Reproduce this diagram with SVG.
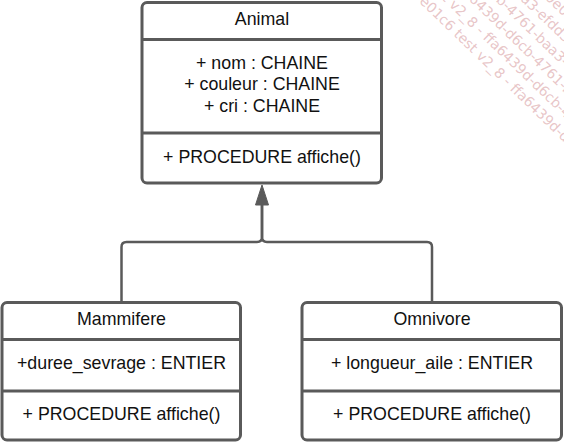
<svg xmlns="http://www.w3.org/2000/svg" width="564" height="443" viewBox="0 0 564 443">
<style>
.box{fill:#fff;stroke:#5a5a5a;stroke-width:3}
.div{stroke:#5a5a5a;stroke-width:3}
.t{font-family:"Liberation Sans",Arial,sans-serif;font-size:17.8px;fill:#111;text-anchor:middle}
.wm{font-family:"DejaVu Sans",sans-serif;font-size:14px;fill:#dba6a9;fill-opacity:0.65}
.wme{text-anchor:end}
.conn{fill:none;stroke:#5a5a5a;stroke-width:2.5}
</style>
<rect width="564" height="443" fill="#fff"/>
<g id="watermark" transform="translate(425,8) rotate(44)">
<text class="wm wme" x="0" y="0">baa3-efdd3b0e</text>
<text class="wm" x="0" y="0">01c6 test v2_8 - ffa6439d-d6cb-4761-baa3-efdd3b0e</text>
<text class="wm wme" x="-55" y="-18">baa3-efdd3b0e</text>
<text class="wm" x="-55" y="-18">01c6 test v2_8 - ffa6439d-d6cb-4761-baa3-efdd3b0e</text>
<text class="wm wme" x="-110" y="-36">baa3-efdd3b0e</text>
<text class="wm" x="-110" y="-36">01c6 test v2_8 - ffa6439d-d6cb-4761-baa3-efdd3b0e01c6 test</text>
<text class="wm wme" x="-165" y="-54">baa3-efdd3b0e</text>
<text class="wm" x="-165" y="-54">01c6 test v2_8 - ffa6439d-d6cb-4761-baa3-efdd3b0e01c6 test v2_8</text>
<text class="wm" x="-220" y="-72">01c6 test v2_8 - ffa6439d-d6cb-4761-baa3-efdd3b0e01c6 test v2_8</text>
<text class="wm" x="-275" y="-90">01c6 test v2_8 - ffa6439d-d6cb-4761-baa3-efdd3b0e01c6 test v2_8</text>
</g>
<g id="connectors">
<path class="conn" d="M121.5,302 V247 Q121.5,242 126.5,242 H257 Q262,242 262,237 V204"/>
<path class="conn" d="M432,302 V247 Q432,242 427,242 H267 Q262,242 262,237 V204"/>
<polygon points="262,185 255.5,205 268.5,205" fill="#5a5a5a" stroke="#5a5a5a" stroke-width="1" stroke-linejoin="round"/>
</g>
<g id="animal">
<rect class="box" x="142" y="2.5" width="239.5" height="180.5" rx="5"/>
<line class="div" x1="142" y1="39.5" x2="381.5" y2="39.5"/>
<line class="div" x1="142" y1="133" x2="381.5" y2="133"/>
<text class="t" x="262" y="25">Animal</text>
<text class="t" x="262" y="68.5">+ nom : CHAINE</text>
<text class="t" x="262" y="90">+ couleur : CHAINE</text>
<text class="t" x="262" y="111.5">+ cri : CHAINE</text>
<text class="t" x="262" y="162.5">+ PROCEDURE affiche()</text>
</g>
<g id="mammifere">
<rect class="box" x="2" y="302.5" width="238.5" height="137.5" rx="5"/>
<line class="div" x1="2" y1="339.5" x2="240.5" y2="339.5"/>
<line class="div" x1="2" y1="391" x2="240.5" y2="391"/>
<text class="t" x="121.5" y="325">Mammifere</text>
<text class="t" x="121.5" y="369">+duree_sevrage : ENTIER</text>
<text class="t" x="121.5" y="420">+ PROCEDURE affiche()</text>
</g>
<g id="omnivore">
<rect class="box" x="302" y="302.5" width="259.5" height="137.5" rx="5"/>
<line class="div" x1="302" y1="339.5" x2="561.5" y2="339.5"/>
<line class="div" x1="302" y1="391" x2="561.5" y2="391"/>
<text class="t" x="432" y="325">Omnivore</text>
<text class="t" x="432" y="369">+ longueur_aile : ENTIER</text>
<text class="t" x="432" y="420">+ PROCEDURE affiche()</text>
</g>
</svg>
